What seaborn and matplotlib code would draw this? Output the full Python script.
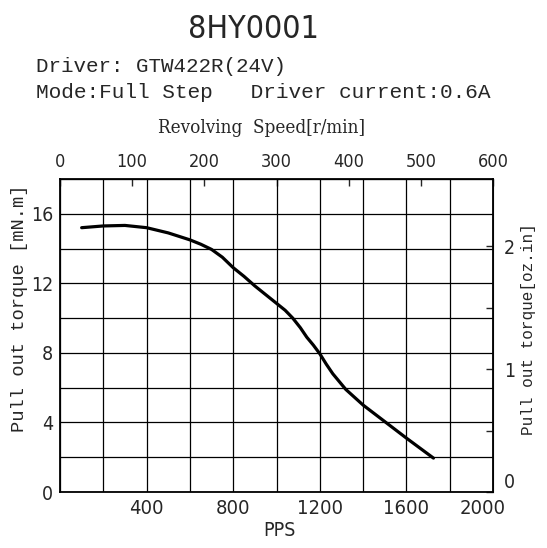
import matplotlib
matplotlib.use('Agg')
import matplotlib.pyplot as plt
import matplotlib.transforms as mtransforms
import seaborn as sns
import pandas as pd

# curve (PPS -> mN.m)
pps = [100, 200, 300, 400, 500, 600, 650, 700, 750, 800, 850, 900, 950, 1000,
       1040, 1075, 1110, 1140, 1170, 1200, 1230, 1260, 1320, 1400, 1500, 1600, 1725]
torque = [15.2, 15.3, 15.33, 15.2, 14.9, 14.5, 14.25, 13.95, 13.5, 12.9, 12.4,
          11.85, 11.35, 10.85, 10.45, 10.0, 9.45, 8.9, 8.45, 7.95, 7.35, 6.8,
          5.9, 5.0, 4.05, 3.1, 1.95]

x_ticks = list(range(0, 2001, 200))
x_labels = ['' if (v == 0 or v % 400) else str(v) for v in x_ticks]
y_ticks = list(range(0, 19, 2))
y_labels = [str(v) if v % 4 == 0 else '' for v in y_ticks]
rpm_ticks = [0, 100, 200, 300, 400, 500, 600]
oz_ticks = [0, 0.5, 1, 1.5, 2]
oz_labels = ['0', '', '1', '', '2']

sns.set_style('white')
plt.rcParams['font.family'] = ['DejaVu Sans']
plt.rcParams['font.stretch'] = 'condensed'

df = pd.DataFrame({'PPS': pps, 'torque': torque})

fig = plt.figure(figsize=(5.47, 5.48), dpi=100)
ax = fig.add_axes([60 / 547, 1 - 492 / 548, 433 / 547, 313 / 548])
sns.lineplot(data=df, x='PPS', y='torque', ax=ax, color='black', linewidth=2.3)

ax.set_xlim(0, 2000)
ax.set_ylim(0, 18)
ax.set_xticks(x_ticks)
ax.set_xticklabels(x_labels)
ax.set_yticks(y_ticks)
ax.set_yticklabels(y_labels)
ax.tick_params(length=0, labelsize=14, pad=5)
ax.tick_params(axis='x', labelsize=14.5)
ax.grid(True, color='black', linewidth=0.9)
for s in ax.spines.values():
    s.set_color('black')
    s.set_linewidth(1.3)
ax.set_xlabel('')
ax.set_ylabel('')

# top axis: rpm (1.8 deg step -> rpm = PPS * 0.3)
top = ax.secondary_xaxis('top', functions=(lambda p: p * 0.3, lambda r: r / 0.3))
top.set_xticks(rpm_ticks)
top.tick_params(direction='in', length=5, width=1, labelsize=13, pad=6)

# right axis: oz.in
right = ax.secondary_yaxis('right', functions=(lambda t: t / 7.0616, lambda o: o * 7.0616))
right.set_yticks(oz_ticks)
right.set_yticklabels(oz_labels)
right.tick_params(direction='in', length=5, width=1, labelsize=14, pad=8)

# keep the corner labels apart, as in the reference
last = ax.get_xticklabels()[-1]
last.set_transform(last.get_transform()
                   + mtransforms.ScaledTranslation(-10 / 100, 0, fig.dpi_scale_trans))
right.get_yticklabels()[0].set_va('bottom')

fig.text(253 / 547, 1 - 30 / 548, '8HY0001', ha='center', va='center', fontsize=23)
fig.text(36 / 547, 1 - 67 / 548, 'Driver: GTW422R(24V)', ha='left', va='center',
         fontsize=15, family='Liberation Mono', stretch='normal')
fig.text(36 / 547, 1 - 92 / 548, 'Mode:Full Step   Driver current:0.6A', ha='left',
         va='center', fontsize=15.2, family='Liberation Mono', stretch='normal')
fig.text(262 / 547, 1 - 128 / 548, 'Revolving  Speed[r/min]', ha='center', va='center',
         fontsize=13.5, family='DejaVu Serif')
fig.text(279 / 547, 1 - 530 / 548, 'PPS', ha='center', va='center', fontsize=14)
fig.text(20 / 547, 1 - 308 / 548, 'Pull out torque [mN.m]', rotation=90, ha='center',
         va='center', fontsize=13.5, family='Liberation Mono', stretch='normal')
fig.text(529 / 547, 1 - 329 / 548, 'Pull out torque[oz.in]', rotation=90, ha='center',
         va='center', fontsize=11.5, family='Liberation Mono', stretch='normal')

fig.savefig('out.png', dpi=100)
